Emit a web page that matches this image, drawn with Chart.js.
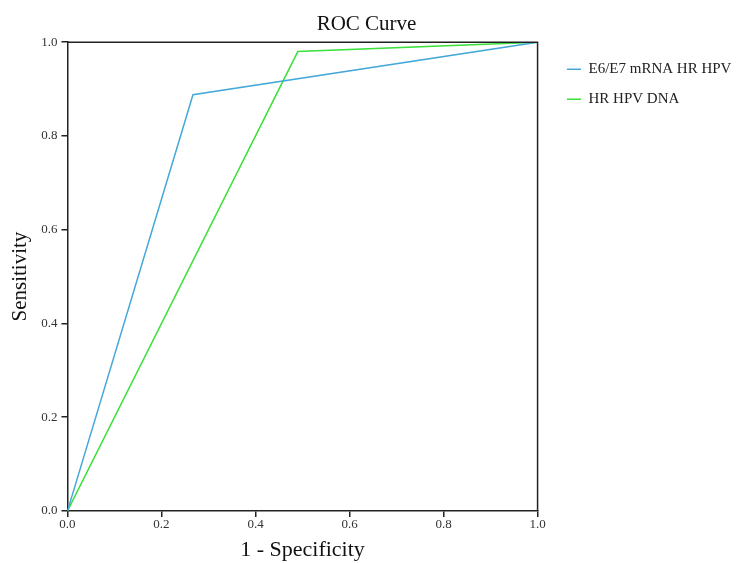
<!DOCTYPE html>
<html>
<head>
<meta charset="utf-8">
<script src="https://cdn.jsdelivr.net/npm/chart.js@4/dist/chart.umd.min.js"></script>
<style>
  html, body { margin: 0; padding: 0; background: #fff; }
  #wrap { width: 737px; height: 563px; }
</style>
</head>
<body>
<div id="wrap"><canvas id="roc" width="737" height="563"></canvas></div>
<script>
// datos
const seriesNames = ["E6/E7 mRNA HR HPV", "HR HPV DNA"];
const mrnaX = [0, 0.267, 1];
const mrnaY = [0, 0.888, 1];
const dnaX = [0, 0.49, 1];
const dnaY = [0, 0.98, 1];
const tickValues = [0, 0.2, 0.4, 0.6, 0.8, 1.0];

const toPoints = (xs, ys) => xs.map((x, i) => ({ x: x, y: ys[i] }));

// marco superior y derecho
const frame = {
  id: "frame",
  afterDatasetsDraw(chart) {
    const a = chart.chartArea, c = chart.ctx;
    c.save();
    c.strokeStyle = "#222";
    c.lineWidth = 1.5;
    c.beginPath();
    c.moveTo(a.left, a.top);
    c.lineTo(a.right, a.top);
    c.lineTo(a.right, a.bottom);
    c.stroke();
    c.restore();
  }
};

// mover la leyenda un poco a la derecha del grafico
const legendShift = {
  id: "legendShift",
  afterLayout(chart) {
    const lg = chart.legend;
    if (!lg) return;
    const dx = 552 - lg.left;
    lg.left += dx;
    lg.right += dx;
  }
};

const serif = "'Liberation Serif', 'DejaVu Serif', serif";

const axis = (titleText, titleSize, tickPad, titlePad) => ({
  type: "linear",
  min: 0,
  max: 1,
  afterBuildTicks: s => { s.ticks = tickValues.map(v => ({ value: v })); },
  ticks: {
    color: "#333",
    font: { family: serif, size: 13 },
    padding: tickPad,
    callback: v => Number(v).toFixed(1)
  },
  grid: {
    drawOnChartArea: false,
    drawTicks: true,
    tickLength: 6,
    color: "#222",
    lineWidth: 1.5
  },
  border: { color: "#222", width: 1.5 },
  title: {
    display: true,
    text: titleText,
    color: "#111",
    font: { family: serif, size: titleSize },
    padding: titlePad
  }
});

new Chart(document.getElementById("roc"), {
  type: "scatter",
  data: {
    datasets: [
      {
        label: seriesNames[0],
        data: toPoints(mrnaX, mrnaY),
        showLine: true,
        borderColor: "#44a8d8",
        backgroundColor: "#44a8d8",
        borderWidth: 1.5,
        pointRadius: 0,
        tension: 0
      },
      {
        label: seriesNames[1],
        data: toPoints(dnaX, dnaY),
        showLine: true,
        borderColor: "#3be03b",
        backgroundColor: "#3be03b",
        borderWidth: 1.5,
        pointRadius: 0,
        tension: 0
      }
    ]
  },
  options: {
    responsive: false,
    animation: false,
    layout: { padding: { left: 6, right: 10, top: 8, bottom: 0 } },
    plugins: {
      title: {
        display: true,
        text: "ROC Curve",
        color: "#111",
        font: { family: serif, size: 21, weight: "normal" },
        padding: { top: 4, bottom: 5 }
      },
      legend: {
        position: "right",
        align: "start",
        maxWidth: 220,
        title: {
          display: true,
          text: " ",
          font: { family: serif, size: 14 },
          padding: { top: 0, bottom: 22 }
        },
        labels: {
          usePointStyle: true,
          pointStyle: "line",
          pointStyleWidth: 14,
          boxHeight: 12,
          color: "#222",
          font: { family: serif, size: 15 },
          padding: 15
        }
      },
      tooltip: { enabled: false }
    },
    scales: {
      x: axis("1 - Specificity", 22, 0, { top: 4, bottom: 0 }),
      y: axis("Sensitivity", 21, 4, { top: 2, bottom: 4 })
    }
  },
  plugins: [frame, legendShift]
});
</script>
</body>
</html>
